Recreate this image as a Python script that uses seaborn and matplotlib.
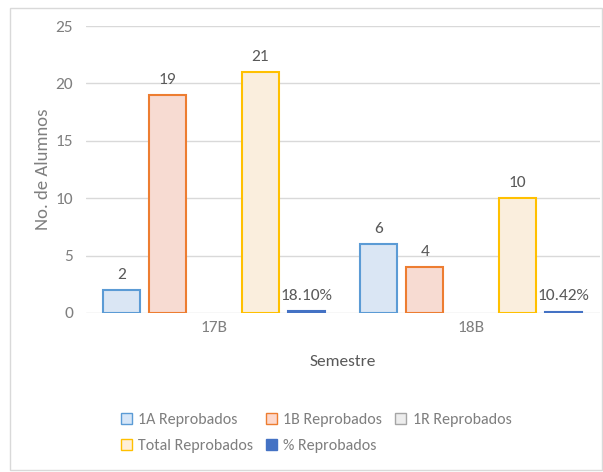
import pandas as pd
import numpy as np
import matplotlib
matplotlib.use('Agg')
import matplotlib.pyplot as plt
from matplotlib.patches import Rectangle, Patch
from matplotlib import font_manager
import seaborn as sns

# Data
semestres = ['17B', '18B']
series = ['1A Reprobados', '1B Reprobados', '1R Reprobados', 'Total Reprobados', '% Reprobados']
rep_1a = [2, 6]
rep_1b = [19, 4]
rep_1r = [0, 0]
rep_total = [21, 10]
rep_pct = [0.1810, 0.1042]

labels_1a = ['2', '6']
labels_1b = ['19', '4']
labels_total = ['21', '10']
labels_pct = ['18.10%', '10.42%']

edge_colors = ['#5B9BD5', '#ED7D31', '#A5A5A5', '#FFC000', '#4472C4']
fill_colors = ['#D6E6F8', '#FDD8CC', '#EDEDED', '#FFEFD8', '#4472C4']

rows = []
for i, s in enumerate(semestres):
    for name, vals in zip(series, [rep_1a, rep_1b, rep_1r, rep_total, rep_pct]):
        rows.append({'Semestre': s, 'Serie': name, 'Valor': vals[i]})
df = pd.DataFrame(rows)

# pick a narrow font if there is one
installed = {f.name for f in font_manager.fontManager.ttflist}
narrow = None
for cand in ['Carlito', 'Liberation Sans Narrow']:
    if cand in installed:
        narrow = cand
        break

sns.set_style('white')
if narrow:
    plt.rcParams['font.family'] = [narrow, 'DejaVu Sans']
    fs_tick, fs_lab, fs_leg = 12.5, 12.5, 11.5
else:
    plt.rcParams['font.family'] = ['Lato', 'DejaVu Sans']
    fs_tick, fs_lab, fs_leg = 11, 11, 10

txt = '#7F7F7F'

fig = plt.figure(figsize=(6.03, 4.72), dpi=100)
fig.patches.append(Rectangle((10 / 603, 2 / 472), 592 / 603, 462 / 472, transform=fig.transFigure,
                             fill=False, edgecolor='#D9D9D9', linewidth=1))
ax = fig.add_axes([85.5 / 603, 159 / 472, 514 / 603, 287 / 472])

sns.barplot(data=df, x='Semestre', y='Valor', hue='Serie', hue_order=series,
            palette=fill_colors, width=0.9, gap=0.2, ax=ax, legend=False)

# outline colours per series
for j, cont in enumerate(ax.containers):
    for bar in cont:
        bar.set_edgecolor(edge_colors[j])
        bar.set_linewidth(1.5)
        if series[j] == '1R Reprobados':
            bar.set_visible(False)

# data labels
label_sets = [labels_1a, labels_1b, None, labels_total, labels_pct]
for j, cont in enumerate(ax.containers):
    if label_sets[j] is None:
        continue
    ax.bar_label(cont, labels=label_sets[j], padding=6, fontsize=fs_lab, color='#595959')

ax.set_ylim(0, 25)
ax.set_xlim(-0.5, 1.5)
ax.set_yticks([0, 5, 10, 15, 20, 25])
ax.yaxis.grid(True, color='#D9D9D9', linewidth=1)
ax.set_axisbelow(True)
for sp in ax.spines.values():
    sp.set_visible(False)
ax.tick_params(axis='y', labelsize=fs_tick, labelcolor=txt, length=0, pad=9)
ax.tick_params(axis='x', labelsize=fs_tick, labelcolor=txt, length=0, pad=6)
ax.set_ylabel('No. de Alumnos', fontsize=fs_tick + 1, color=txt, labelpad=3)
ax.set_xlabel('Semestre', fontsize=fs_tick, color='#595959', labelpad=14)

handles = [Patch(facecolor=fill_colors[k], edgecolor=edge_colors[k], linewidth=1) for k in range(5)]
order = [0, 3, 1, 4, 2]
ax.legend([handles[k] for k in order], [series[k] for k in order], ncol=3,
          loc='center', bbox_to_anchor=(316 / 603, (472 - 433) / 472),
          bbox_transform=fig.transFigure, frameon=False, fontsize=fs_leg,
          handlelength=0.7, handleheight=0.7, handletextpad=0.4, columnspacing=0.8,
          labelspacing=0.7, labelcolor=txt)

fig.savefig('out.png', dpi=100)
